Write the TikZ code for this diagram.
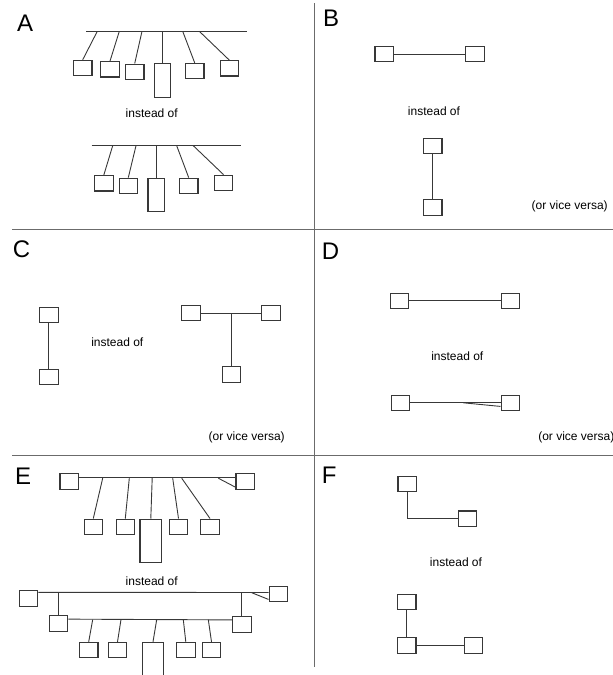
\documentclass[tikz,border=0pt]{standalone}
\usepackage{fontspec}
\setmainfont{Liberation Sans}
\usetikzlibrary{calc}
\definecolor{ink}{gray}{0.22}
\definecolor{rulegrey}{gray}{0.42}
\begin{document}
\begin{tikzpicture}[x=1pt,y=-1pt,
  unit/.style={draw=ink, line width=1.1pt, inner sep=0pt, minimum width=18.5pt, minimum height=15.3pt},
  tallunit/.style={unit, minimum width=16.5pt, minimum height=33.5pt},
  wire/.style={draw=ink, line width=0.9pt},
  rule/.style={draw=rulegrey, line width=1.1pt},
  panel/.style={font=\fontsize{24}{24}\selectfont, anchor=base west, inner sep=0pt},
  note/.style={font=\fontsize{12}{14}\selectfont, anchor=base, inner sep=0pt}]
\useasboundingbox (0,0) rectangle (613,675);
\clip (0,0) rectangle (613,675);

% panel dividers
\draw[rule] (12,229.5) -- (613,229.5);
\draw[rule] (12,455.7) -- (613,455.7);
\draw[rule] (314.5,3) -- (314.5,667);

% ---------------- A ----------------
\node[panel] (lA) at (17,31) {A};
\coordinate (aL) at (86,31.3);
\coordinate (aR) at (246.7,31.3);
\draw[wire] (aL) -- (aR);
\node[unit] (a1) at (82.7,68) {};
\node[unit] (a2) at (110,69.3) {};
\node[unit] (a3) at (134.7,71.7) {};
\node[tallunit] (a4) at (162.3,80.3) {};
\node[unit] (a5) at (194.7,71) {};
\node[unit] (a6) at (229.3,68.3) {};
\coordinate (at1) at (97.3,31.3);
\coordinate (at2) at (119.3,31.3);
\coordinate (at3) at (142,31.3);
\coordinate (at4) at (162.3,31.3);
\coordinate (at5) at (182.7,31.3);
\coordinate (at6) at (199.3,31.3);
\foreach \i in {1,...,6} \draw[wire] (at\i) -- (a\i.north);
\node[note] (iA) at (151.7,117.3) {instead of};

\coordinate (bL) at (91.7,145.7);
\coordinate (bR) at (240.7,145.7);
\draw[wire] (bL) -- (bR);
\node[unit] (b1) at (103.8,183.3) {};
\node[unit] (b2) at (128.3,185.8) {};
\node[tallunit, minimum height=32.7pt] (b3) at (156.2,194.7) {};
\node[unit] (b4) at (188.7,185.8) {};
\node[unit] (b5) at (223.5,182.8) {};
\coordinate (bt1) at (112.7,145.7);
\coordinate (bt2) at (136,145.7);
\coordinate (bt3) at (156.2,145.7);
\coordinate (bt4) at (176.7,145.7);
\coordinate (bt5) at (193.3,145.7);
\foreach \i in {1,...,5} \draw[wire] (bt\i) -- (b\i.north);

% ---------------- B ----------------
\node[panel] (lB) at (323,26.7) {B};
\node[unit] (B1) at (384.2,54.2) {};
\node[unit] (B2) at (474.9,54.2) {};
\draw[wire] (B1) -- (B2);
\node[note] (iB) at (434,115) {instead of};
\node[unit] (B3) at (432.7,146.2) {};
\node[unit] (B4) at (432.7,207.5) {};
\draw[wire] (B3) -- (B4);
\node[note] (vB) at (569.7,209.2) {(or vice versa)};

% ---------------- C ----------------
\node[panel] (lC) at (12.7,257.5) {C};
\node[unit] (C1) at (48.8,315) {};
\node[unit] (C2) at (48.8,376.7) {};
\draw[wire] (C1) -- (C2);
\node[note] (iC) at (117.3,346.7) {instead of};
\node[unit] (C3) at (190.8,313) {};
\node[unit] (C4) at (270.8,313) {};
\node[unit] (C5) at (231.3,374.5) {};
\coordinate (cJ) at (231.3,313);
\draw[wire] (C3) -- (C4);
\draw[wire] (cJ) -- (C5.north);
\node[note] (vC) at (246.7,440.8) {(or vice versa)};

% ---------------- D ----------------
\node[panel] (lD) at (321.7,259.5) {D};
\node[unit] (D1) at (399.3,300.7) {};
\node[unit] (D2) at (510.3,300.7) {};
\draw[wire] (D1) -- (D2);
\node[note] (iD) at (457.3,360) {instead of};
\node[unit] (D3) at (400.5,402.8) {};
\node[unit] (D4) at (510.3,402.8) {};
\coordinate (dJ) at (463.3,402.8);
\draw[wire] (D3) -- (D4);
\draw[wire] (dJ) -- ($(D4.south west)!0.28!(D4.north west)$);
\node[note] (vD) at (576.3,440.8) {(or vice versa)};

% ---------------- E ----------------
\node[panel] (lE) at (15,484) {E};
\node[unit] (E1) at (69.2,481.5) {};
\node[unit] (E2) at (245.2,481.5) {};
\draw[wire] (E1.20) -- (E2.160);
\coordinate (eD) at (218.3,478.2);
\draw[wire] (eD) -- (E2.210);
\node[unit] (e1) at (93.3,526.7) {};
\node[unit] (e2) at (125.3,526.7) {};
\node[unit, minimum width=21.7pt, minimum height=43.3pt] (e3) at (150.8,540.7) {};
\node[unit] (e4) at (178.5,526.7) {};
\node[unit] (e5) at (210,526.7) {};
\coordinate (et1) at (102.7,478.2);
\coordinate (et2) at (129.3,478.2);
\coordinate (et3) at (152.2,478.2);
\coordinate (et4) at (172.7,478.2);
\coordinate (et5) at (181.7,478.2);
\foreach \i in {1,...,5} \draw[wire] (et\i) -- (e\i.north);
\node[note] (iE) at (151.7,585) {instead of};

\node[unit] (E3) at (28.5,598.5) {};
\node[unit] (E4) at (278.3,594.2) {};
\draw[wire] (E3.32) -- (E4.170);
\coordinate (eD2) at (251.7,592.7);
\draw[wire] (eD2) -- (E4.208);
\node[unit] (E5) at (58.5,623.5) {};
\node[unit] (E6) at (241.8,624.5) {};
\coordinate (eJ1) at (58.5,592.7);
\coordinate (eJ2) at (241.8,592.7);
\draw[wire] (eJ1) -- (E5.north);
\draw[wire] (eJ2) -- (E6.north);
\draw[wire] (E5.24) -- ($(E6.west)+(0,-4.6)$);
\node[unit] (f1) at (88.7,650) {};
\node[unit] (f2) at (117.5,650) {};
\node[unit, minimum width=20.6pt, minimum height=60pt] (f3) at (153,672.3) {};
\node[unit] (f4) at (185.8,650) {};
\node[unit] (f5) at (211.5,650) {};
\coordinate (ft1) at (92.7,619.6);
\coordinate (ft2) at (121,619.6);
\coordinate (ft3) at (156.7,619.6);
\coordinate (ft4) at (183.3,619.6);
\coordinate (ft5) at (208.3,619.6);
\foreach \i in {1,...,5} \draw[wire] (ft\i) -- (f\i.north);

% ---------------- F ----------------
\node[panel] (lF) at (321.7,483) {F};
\node[unit] (F1) at (407.2,484.2) {};
\node[unit] (F2) at (467.5,518.6) {};
\draw[wire] (F1.south) |- (F2.west);
\node[note] (iF) at (456,566.7) {instead of};
\node[unit] (F3) at (406.7,601.8) {};
\node[unit] (F4) at (406.7,645.5) {};
\node[unit] (F5) at (473.5,645.5) {};
\draw[wire] (F3) -- (F4);
\draw[wire] (F4) -- (F5);
\end{tikzpicture}
\end{document}
